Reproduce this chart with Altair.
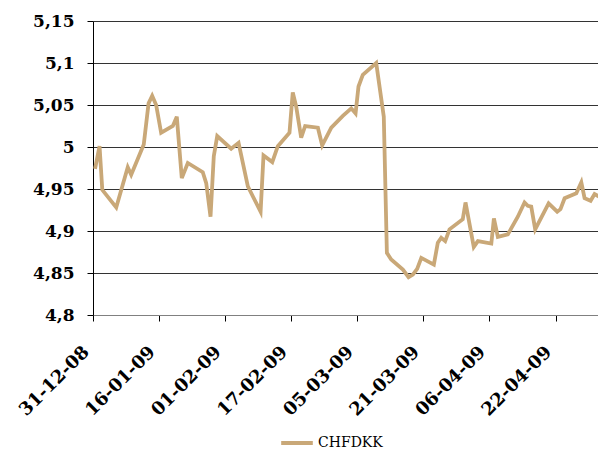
import altair as alt
import pandas as pd

series_name = "CHFDKK"

dates = [
    "2008-12-31T12:00", "2009-01-01T14:00", "2009-01-02T06:00", "2009-01-05T15:00",
    "2009-01-08T10:00", "2009-01-09T06:00", "2009-01-12T07:00", "2009-01-13T11:00",
    "2009-01-14T08:00", "2009-01-15T07:00", "2009-01-16T12:00", "2009-01-19T08:00",
    "2009-01-20T07:00", "2009-01-21T12:00", "2009-01-22T23:00", "2009-01-26T14:00",
    "2009-01-27T10:00", "2009-01-28T11:00", "2009-01-29T06:00", "2009-01-30T02:00",
    "2009-02-02T11:00", "2009-02-04T06:00", "2009-02-06T12:00", "2009-02-09T14:00",
    "2009-02-10T07:00", "2009-02-12T10:00", "2009-02-13T18:00", "2009-02-16T14:00",
    "2009-02-17T09:00", "2009-02-18T05:00", "2009-02-19T10:00", "2009-02-20T09:00",
    "2009-02-23T11:00", "2009-02-24T12:00", "2009-02-26T17:00", "2009-03-01T12:00",
    "2009-03-03T13:00", "2009-03-04T14:00", "2009-03-05T07:00", "2009-03-06T08:00",
    "2009-03-09T14:00", "2009-03-11T10:00", "2009-03-12T04:00", "2009-03-13T05:00",
    "2009-03-16T01:00", "2009-03-17T10:00", "2009-03-18T11:00", "2009-03-19T12:00",
    "2009-03-20T12:00", "2009-03-23T13:00", "2009-03-24T12:00", "2009-03-25T08:00",
    "2009-03-26T07:00", "2009-03-27T08:00", "2009-03-30T13:00", "2009-03-31T05:00",
    "2009-04-02T05:00", "2009-04-03T05:00", "2009-04-06T11:00", "2009-04-07T02:00",
    "2009-04-08T01:00", "2009-04-10T11:00", "2009-04-12T21:00", "2009-04-14T12:00",
    "2009-04-15T07:00", "2009-04-16T03:00", "2009-04-17T02:00", "2009-04-20T08:00",
    "2009-04-22T10:00", "2009-04-23T05:00", "2009-04-24T05:00", "2009-04-27T01:00",
    "2009-04-28T06:00", "2009-04-29T01:00", "2009-04-30T12:00", "2009-05-01T11:00",
    "2009-05-03T21:00",
]

values = [
    4.974, 5.001, 4.949, 4.928,
    4.976, 4.967, 5.003, 5.052,
    5.061, 5.050, 5.017, 5.025,
    5.036, 4.963, 4.981, 4.970,
    4.957, 4.917, 4.989, 5.013,
    4.998, 5.005, 4.953, 4.923,
    4.990, 4.982, 5.001, 5.017,
    5.065, 5.048, 5.011, 5.025,
    5.023, 5.002, 5.023, 5.037,
    5.046, 5.040, 5.072, 5.086,
    5.100, 5.036, 4.874, 4.866,
    4.854, 4.845, 4.848, 4.855,
    4.868, 4.860, 4.886, 4.892,
    4.888, 4.902, 4.914, 4.934,
    4.881, 4.888, 4.885, 4.915,
    4.893, 4.896, 4.917, 4.934,
    4.930, 4.929, 4.902, 4.933,
    4.923, 4.926, 4.939, 4.945,
    4.958, 4.939, 4.936, 4.944,
    4.937,
]

x_tick_dates = [(2008, 12, 31), (2009, 1, 16), (2009, 2, 1), (2009, 2, 17),
                (2009, 3, 5), (2009, 3, 21), (2009, 4, 6), (2009, 4, 22)]
y_ticks = [4.8, 4.85, 4.9, 4.95, 5.0, 5.05, 5.1, 5.15]

line_color = "#C9A878"
font = "DejaVu Serif"

df = pd.DataFrame({"date": dates, "value": values, "series": series_name})

x_values = [alt.DateTime(year=y, month=m, date=d) for (y, m, d) in x_tick_dates]

chart = alt.Chart(df).mark_line(strokeWidth=3.8, clip=True).encode(
    x=alt.X(
        "date:T",
        scale=alt.Scale(domain=[alt.DateTime(year=2008, month=12, date=31),
                                alt.DateTime(year=2009, month=5, date=2, hours=7)]),
        axis=alt.Axis(
            values=x_values, format="%d-%m-%y", title=None, grid=False,
            labelAngle=315, labelAlign="right", labelBaseline="middle",
            labelFont=font, labelFontWeight="bold", labelFontSize=18, labelColor="black",
            labelPadding=28, labelOffset=-7, labelFlush=False, labelOverlap=False,
            tickSize=6, tickColor="black", domainColor="#808080", domainWidth=1,
        ),
    ),
    y=alt.Y(
        "value:Q",
        scale=alt.Scale(domain=[4.8, 5.15], nice=False, zero=False),
        axis=alt.Axis(
            values=y_ticks, title=None, grid=True, gridColor="#333333", gridWidth=1,
            labelExpr="replace(format(datum.value, '.2~f'), '.', ',')",
            labelFont=font, labelFontWeight="bold", labelFontSize=17, labelColor="black",
            labelPadding=13, tickSize=6, tickColor="black",
            domainColor="black", domainWidth=1,
        ),
    ),
    color=alt.Color(
        "series:N",
        scale=alt.Scale(range=[line_color]),
        legend=alt.Legend(
            title=None, orient="none", legendX=186, legendY=404, direction="horizontal",
            symbolType="stroke", symbolStrokeWidth=4, symbolSize=1000,
            labelFont=font, labelFontSize=14, labelColor="black", padding=0,
            labelOffset=3,
        ),
    ),
).properties(
    width=505,
    height=294,
    padding={"left": 85, "top": 13, "right": 0, "bottom": 137},
    autosize=alt.AutoSizeParams(type="none"),
    background="white",
).configure_view(stroke=None)

chart.save("out.html", embed_options={"renderer": "svg", "actions": False})
